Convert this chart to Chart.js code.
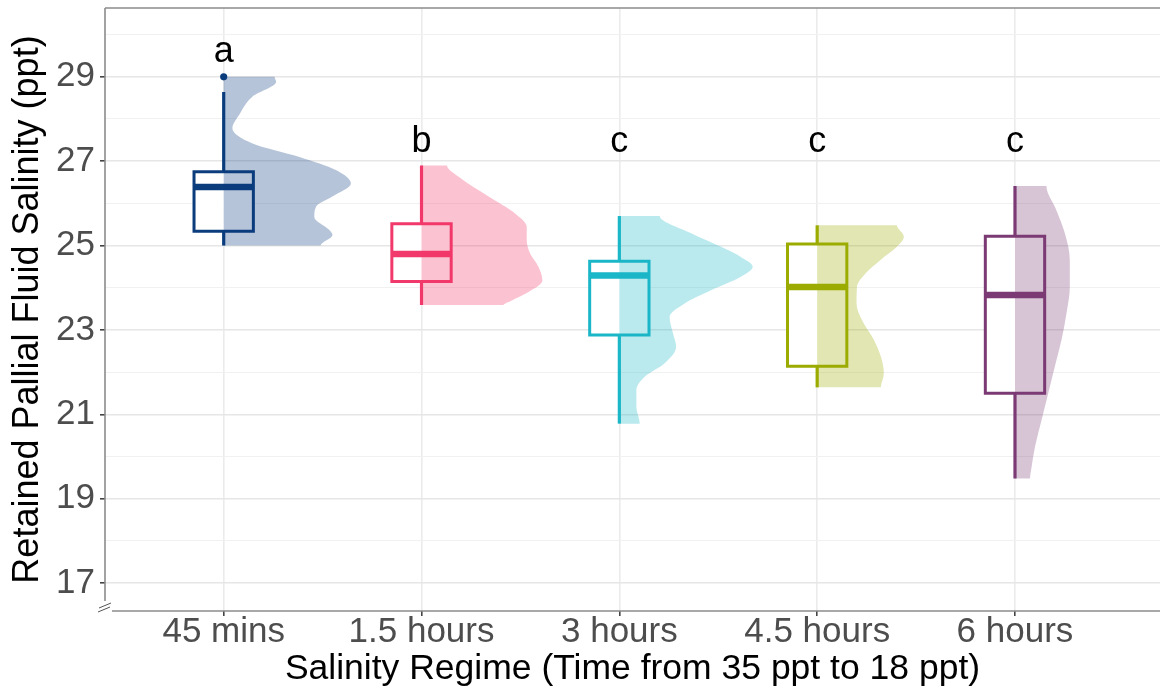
<!DOCTYPE html>
<html>
<head>
<meta charset="utf-8">
<script src="https://cdn.jsdelivr.net/npm/chart.js@4.4.1/dist/chart.umd.min.js"></script>
<style>
  html, body { margin: 0; padding: 0; background: #fff; }
</style>
</head>
<body>
<canvas id="chart" width="1164" height="691"></canvas>
<script>
// Salinity regimes (x categories) and their colours
const regimes = ['45 mins', '1.5 hours', '3 hours', '4.5 hours', '6 hours'];
const groupColors = ['#0b3d7d', '#f2396b', '#1bb7c8', '#9bab00', '#7b3a73'];

// Compact letter display from the post-hoc test
const sigLetters = ['a', 'b', 'c', 'c', 'c'];
const letterY = [29.34, 27.22, 27.22, 27.22, 27.22];

// Box plot summaries (ppt)
const whiskerLow = [25.0, 23.59, 20.78, 21.64, 19.48];
const lowerQuartile = [25.34, 24.15, 22.88, 22.14, 21.5];
const medians = [26.39, 24.8, 24.29, 24.02, 23.83];
const upperQuartile = [26.75, 25.52, 24.63, 25.04, 25.22];
const whiskerHigh = [28.64, 26.9, 25.7, 25.48, 26.41];
const outlierGroup = [0];
const outlierValue = [29.0];

// Half-violin density curves: salinity values and scaled densities
const dens45Y = [25.0, 25.25, 25.37, 25.68, 25.92, 26.16, 26.47, 26.79, 27.1, 27.42, 27.78, 28.12, 28.53, 28.88, 29.0];
const dens45W = [0.49, 0.55, 0.534, 0.458, 0.467, 0.549, 0.643, 0.567, 0.383, 0.146, 0.044, 0.081, 0.146, 0.265, 0.257];
const dens90Y = [23.59, 23.7, 23.9, 24.18, 24.5, 24.81, 25.13, 25.44, 25.76, 26.16, 26.63, 26.9];
const dens90W = [0.415, 0.457, 0.541, 0.611, 0.591, 0.549, 0.532, 0.532, 0.473, 0.339, 0.188, 0.129];
const dens180Y = [20.78, 21.18, 21.57, 21.89, 22.21, 22.6, 22.92, 23.31, 23.63, 23.94, 24.26, 24.5, 24.73, 24.97, 25.29, 25.7];
const dens180W = [0.103, 0.086, 0.086, 0.128, 0.229, 0.287, 0.271, 0.254, 0.33, 0.463, 0.614, 0.674, 0.614, 0.514, 0.363, 0.204];
const dens270Y = [21.64, 21.97, 22.29, 22.76, 23.23, 23.63, 24.02, 24.34, 24.66, 24.97, 25.21, 25.48];
const dens270W = [0.322, 0.337, 0.327, 0.287, 0.227, 0.199, 0.201, 0.244, 0.32, 0.403, 0.438, 0.403];
const dens360Y = [19.48, 19.76, 20.23, 20.86, 21.5, 22.13, 22.76, 23.39, 24.02, 24.66, 25.29, 25.84, 26.41];
const dens360W = [0.076, 0.084, 0.101, 0.134, 0.168, 0.201, 0.235, 0.26, 0.277, 0.277, 0.252, 0.209, 0.159];

// Axis ticks
const yLabelTicks = [17, 19, 21, 23, 25, 27, 29];
const yMinorTicks = [18, 20, 22, 24, 26, 28, 30];

const violinY = [dens45Y, dens90Y, dens180Y, dens270Y, dens360Y];
const violinW = [dens45W, dens90W, dens180W, dens270W, dens360W];

const FONT = "'Liberation Sans', Arial, sans-serif";
const BOX_HALF = 0.15;

function withAlpha(hex, a) {
    const n = parseInt(hex.slice(1), 16);
    return `rgba(${(n >> 16) & 255}, ${(n >> 8) & 255}, ${n & 255}, ${a})`;
}

const datasets = [];
regimes.forEach((name, i) => {
    const col = groupColors[i];
    const ys = violinY[i];
    const ws = violinW[i];

    // half violin on the right of each box
    const outline = [{ x: i, y: ys[0] }]
        .concat(ys.map((y, k) => ({ x: i + ws[k], y: y })))
        .concat([{ x: i, y: ys[ys.length - 1] }]);
    datasets.push({
        data: outline,
        indexAxis: 'y',
        fill: 'shape',
        backgroundColor: withAlpha(col, 0.3),
        borderWidth: 0,
        pointRadius: 0,
        cubicInterpolationMode: 'monotone',
        order: 0
    });

    // median bar
    datasets.push({
        data: [{ x: i - BOX_HALF, y: medians[i] }, { x: i + BOX_HALF, y: medians[i] }],
        borderColor: col,
        borderWidth: 6.5,
        borderCapStyle: 'butt',
        pointRadius: 0,
        fill: false,
        order: 1
    });

    // box between the quartiles
    datasets.push({
        data: [
            { x: i - BOX_HALF, y: lowerQuartile[i] },
            { x: i + BOX_HALF, y: lowerQuartile[i] },
            { x: i + BOX_HALF, y: upperQuartile[i] },
            { x: i - BOX_HALF, y: upperQuartile[i] },
            { x: i - BOX_HALF, y: lowerQuartile[i] }
        ],
        fill: 'shape',
        backgroundColor: '#ffffff',
        borderColor: col,
        borderWidth: 3,
        borderCapStyle: 'square',
        borderJoinStyle: 'miter',
        pointRadius: 0,
        tension: 0,
        order: 2
    });

    // whisker, hidden behind the box in the middle
    datasets.push({
        data: [{ x: i, y: whiskerLow[i] }, { x: i, y: whiskerHigh[i] }],
        borderColor: col,
        borderWidth: 3.2,
        borderCapStyle: 'butt',
        pointRadius: 0,
        fill: false,
        order: 3
    });
});

datasets.push({
    data: outlierGroup.map((g, k) => ({ x: g, y: outlierValue[k] })),
    showLine: false,
    pointRadius: 3.6,
    pointBorderWidth: 0,
    pointBackgroundColor: outlierGroup.map(g => groupColors[g]),
    order: 1
});

// significance letters above each group
const letterPlugin = {
    id: 'letters',
    afterDatasetsDraw(chart) {
        const { ctx, scales: { x, y } } = chart;
        ctx.save();
        ctx.fillStyle = '#000';
        ctx.font = `36px ${FONT}`;
        ctx.textAlign = 'center';
        ctx.textBaseline = 'alphabetic';
        sigLetters.forEach((t, i) => {
            ctx.fillText(t, x.getPixelForValue(i), y.getPixelForValue(letterY[i]));
        });
        ctx.restore();
    }
};

// panel frame: top line, broken axis lines and the // break mark
const framePlugin = {
    id: 'frame',
    afterDraw(chart) {
        const { ctx, chartArea: a } = chart;
        ctx.save();
        ctx.strokeStyle = '#8c8c8c';
        ctx.lineWidth = 1.6;
        ctx.beginPath();
        ctx.moveTo(a.left, a.top);
        ctx.lineTo(a.right, a.top);
        ctx.moveTo(a.left, a.top);
        ctx.lineTo(a.left, a.bottom - 10);
        ctx.moveTo(a.left + 7, a.bottom);
        ctx.lineTo(a.right, a.bottom);
        ctx.stroke();
        ctx.lineWidth = 1;
        ctx.strokeStyle = '#555';
        ctx.beginPath();
        ctx.moveTo(a.left - 7, a.bottom + 1);
        ctx.lineTo(a.left + 5, a.bottom - 4);
        ctx.moveTo(a.left - 6, a.bottom - 3);
        ctx.lineTo(a.left + 6, a.bottom - 8);
        ctx.stroke();
        ctx.restore();
    }
};

new Chart(document.getElementById('chart'), {
    type: 'line',
    data: { datasets: datasets },
    options: {
        responsive: false,
        animation: false,
        layout: { padding: { top: 8, right: 0, left: 0, bottom: 0 } },
        plugins: {
            legend: { display: false },
            tooltip: { enabled: false }
        },
        scales: {
            x: {
                type: 'linear',
                min: -0.6,
                max: 4.733,
                afterBuildTicks: s => { s.ticks = regimes.map((_, i) => ({ value: i })); },
                afterFit: s => { s.height = 80; s.paddingLeft = 0; s.paddingRight = 0; },
                ticks: {
                    autoSkip: false,
                    maxRotation: 0,
                    padding: -1,
                    color: '#4d4d4d',
                    font: { family: FONT, size: 35, lineHeight: 1 },
                    callback: v => regimes[v]
                },
                grid: { color: '#ebebeb', lineWidth: 1.6, tickLength: 5, tickColor: '#444' },
                border: { display: false },
                title: {
                    display: true,
                    text: 'Salinity Regime (Time from 35 ppt to 18 ppt)',
                    color: '#000',
                    font: { family: FONT, size: 35.5, lineHeight: 1 },
                    padding: { top: 0, bottom: 4 }
                }
            },
            y: {
                type: 'linear',
                min: 16.34,
                max: 30.63,
                afterBuildTicks: s => {
                    s.ticks = yLabelTicks.concat(yMinorTicks).sort((a, b) => a - b).map(v => ({ value: v }));
                },
                afterFit: s => { s.width = 105; s.paddingTop = 0; s.paddingBottom = 0; },
                ticks: {
                    autoSkip: false,
                    padding: 5,
                    color: '#4d4d4d',
                    font: { family: FONT, size: 35, lineHeight: 1 },
                    callback: v => yLabelTicks.includes(v) ? String(v) : ''
                },
                grid: {
                    color: c => yLabelTicks.includes(c.tick.value) ? '#e6e6e6' : '#f1f1f1',
                    lineWidth: c => yLabelTicks.includes(c.tick.value) ? 1.6 : 1.1,
                    tickLength: 5,
                    tickColor: c => yLabelTicks.includes(c.tick.value) ? '#444' : 'rgba(0,0,0,0)'
                },
                border: { display: false },
                title: {
                    display: true,
                    text: 'Retained Pallial Fluid Salinity (ppt)',
                    color: '#000',
                    font: { family: FONT, size: 36, lineHeight: 1 },
                    padding: { top: 10, bottom: 0 }
                }
            }
        }
    },
    plugins: [letterPlugin, framePlugin]
});
</script>
</body>
</html>
